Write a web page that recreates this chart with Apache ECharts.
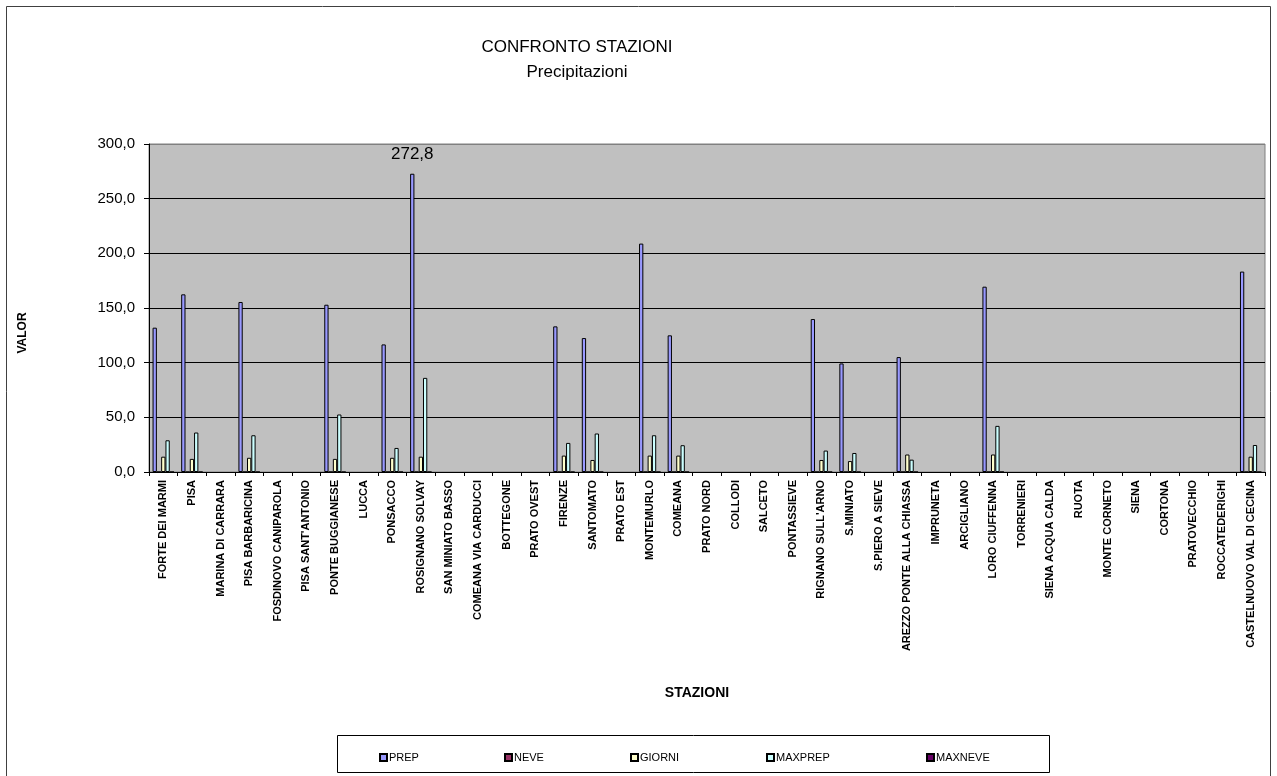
<!DOCTYPE html>
<html>
<head>
<meta charset="utf-8">
<title>Confronto stazioni</title>
<script src="https://cdn.jsdelivr.net/npm/echarts@6/dist/echarts.min.js"></script>
<style>
  html, body { margin: 0; padding: 0; background: #fff; }
  #chart { width: 1277px; height: 776px; }
</style>
</head>
<body>
<div id="chart"></div>
<script>
const stations = [
  'FORTE DEI MARMI', 'PISA', 'MARINA DI CARRARA', 'PISA BARBARICINA', 'FOSDINOVO CANIPAROLA',
  "PISA SANT'ANTONIO", 'PONTE BUGGIANESE', 'LUCCA', 'PONSACCO', 'ROSIGNANO SOLVAY',
  'SAN MINIATO BASSO', 'COMEANA VIA CARDUCCI', 'BOTTEGONE', 'PRATO OVEST', 'FIRENZE',
  'SANTOMATO', 'PRATO EST', 'MONTEMURLO', 'COMEANA', 'PRATO NORD',
  'COLLODI', 'SALCETO', 'PONTASSIEVE', "RIGNANO SULL'ARNO", 'S.MINIATO',
  'S.PIERO A SIEVE', 'AREZZO PONTE ALLA CHIASSA', 'IMPRUNETA', 'ARCIGLIANO', 'LORO CIUFFENNA',
  'TORRENIERI', 'SIENA ACQUA CALDA', 'RUOTA', 'MONTE CORNETO', 'SIENA',
  'CORTONA', 'PRATOVECCHIO', 'ROCCATEDERIGHI', 'CASTELNUOVO VAL DI CECINA'
]

const prep = [
  132.0, 162.5, null, 155.5, null, null, 153.0, null, 116.7, 272.8,
  null, null, null, null, 133.2, 122.5, null, 208.9, 125.0, null,
  null, null, null, 139.9, 99.3, null, 105.1, null, null, 169.5,
  null, null, null, null, null, null, null, null, 183.3
]
const neve = [
  0, 0, null, 0, null, null, 0, null, 0, 0,
  null, null, null, null, 0, 0, null, 0, 0, null,
  null, null, null, 0, 0, null, 0, null, null, 0,
  null, null, null, null, null, null, null, null, 0
]
const giorni = [
  14, 12, null, 13, null, null, 12, null, 13, 14,
  null, null, null, null, 15, 11, null, 15, 15, null,
  null, null, null, 11, 10, null, 16, null, null, 16,
  null, null, null, null, null, null, null, null, 14
]
const maxPrep = [
  29.0, 36.1, null, 33.6, null, null, 52.6, null, 22.0, 86.1,
  null, null, null, null, 26.6, 35.2, null, 33.6, 24.5, null,
  null, null, null, 19.6, 17.4, null, 11.3, null, null, 42.2,
  null, null, null, null, null, null, null, null, 24.7
]
const maxNeve = neve.slice()

const seriesNames = ['PREP', 'NEVE', 'GIORNI', 'MAXPREP', 'MAXNEVE']
const seriesColors = ['#9999ff', '#993366', '#ffffcc', '#ccffff', '#660066']
const seriesData = [prep, neve, giorni, maxPrep, maxNeve]
const yTicks = [0, 50, 100, 150, 200, 250, 300]

// label only the highest PREP bar, like the original sheet
const peak = Math.max(...prep.filter(v => v != null))

const fmt = v => v.toFixed(1).replace('.', ',')
const font = '"Liberation Sans", Arial, sans-serif'

const chart = echarts.init(document.getElementById('chart'))

const legendX = [374, 499, 625, 761, 921]

const option = {
  animation: false,
  backgroundColor: '#fff',
  textStyle: { fontFamily: font },
  title: [
    {
      text: 'CONFRONTO STAZIONI',
      left: 572, top: 34, textAlign: 'center',
      textStyle: { fontFamily: font, fontSize: 17, fontWeight: 'normal', color: '#000' }
    },
    {
      text: 'Precipitazioni',
      left: 572, top: 59, textAlign: 'center',
      textStyle: { fontFamily: font, fontSize: 17, fontWeight: 'normal', color: '#000' }
    }
  ],
  legend: seriesNames.map((name, i) => ({
    data: [name],
    left: legendX[i],
    top: 747,
    icon: 'rect',
    itemWidth: 7,
    itemHeight: 7,
    itemGap: 0,
    textStyle: { fontFamily: font, fontSize: 11, color: '#000', padding: [0, 0, 0, -3] },
    selectedMode: false
  })),
  grid: {
    left: 149,
    right: 12,
    top: 144,
    bottom: 304,
    show: true,
    backgroundColor: '#c0c0c0',
    borderColor: '#808080',
    borderWidth: 1
  },
  xAxis: {
    type: 'category',
    data: stations,
    name: 'STAZIONI',
    nameLocation: 'middle',
    nameGap: 214,
    nameTextStyle: {
      fontFamily: font, fontSize: 14, fontWeight: 'bold', color: '#000',
      padding: [0, 20, 0, 0]
    },
    axisLine: { lineStyle: { color: '#000', width: 1 } },
    axisTick: { show: true, length: 4, lineStyle: { color: '#000' } },
    axisLabel: {
      interval: 0,
      rotate: 90,
      margin: 8,
      fontFamily: font,
      fontSize: 11,
      fontWeight: 'bold',
      color: '#000'
    }
  },
  yAxis: {
    type: 'value',
    min: 0,
    max: 300,
    interval: 50,
    axisLine: { show: true, lineStyle: { color: '#000', width: 1 } },
    axisTick: { show: true, length: 5, lineStyle: { color: '#000' } },
    axisLabel: {
      margin: 14,
      fontFamily: font,
      fontSize: 15,
      color: '#000',
      formatter: v => fmt(v)
    },
    splitLine: {
      lineStyle: {
        color: yTicks.map(t => (t === 300 ? '#808080' : '#000')),
        width: 1
      }
    }
  },
  series: seriesNames.map((name, i) => ({
    name,
    type: 'bar',
    barGap: '0%',
    barCategoryGap: '25%',
    itemStyle: { color: seriesColors[i], borderColor: '#000', borderWidth: 1 },
    emphasis: { disabled: true },
    data: seriesData[i].map(v =>
      (i === 0 && v === peak)
        ? {
            value: v,
            label: {
              show: true,
              position: 'top',
              distance: 11,
              fontFamily: font,
              fontSize: 17,
              color: '#000',
              formatter: p => fmt(p.value)
            }
          }
        : v
    )
  })),
  graphic: [
    {
      type: 'rect',
      shape: { x: 6.5, y: 6.5, width: 1264, height: 820 },
      style: { fill: 'none', stroke: '#404040', lineWidth: 1 },
      silent: true,
      z: -1
    },
    {
      type: 'rect',
      shape: { x: 337.5, y: 735.5, width: 712, height: 37 },
      style: { fill: 'none', stroke: '#000', lineWidth: 1 },
      silent: true
    },
    {
      // y axis title, sits lower than the plot's middle in the original
      type: 'text',
      x: 23,
      y: 333,
      rotation: Math.PI / 2,
      style: {
        text: 'VALOR',
        font: 'bold 12px ' + font,
        fill: '#000',
        textAlign: 'center',
        textVerticalAlign: 'middle'
      },
      silent: true
    }
  ]
}

chart.setOption(option)
</script>
</body>
</html>
